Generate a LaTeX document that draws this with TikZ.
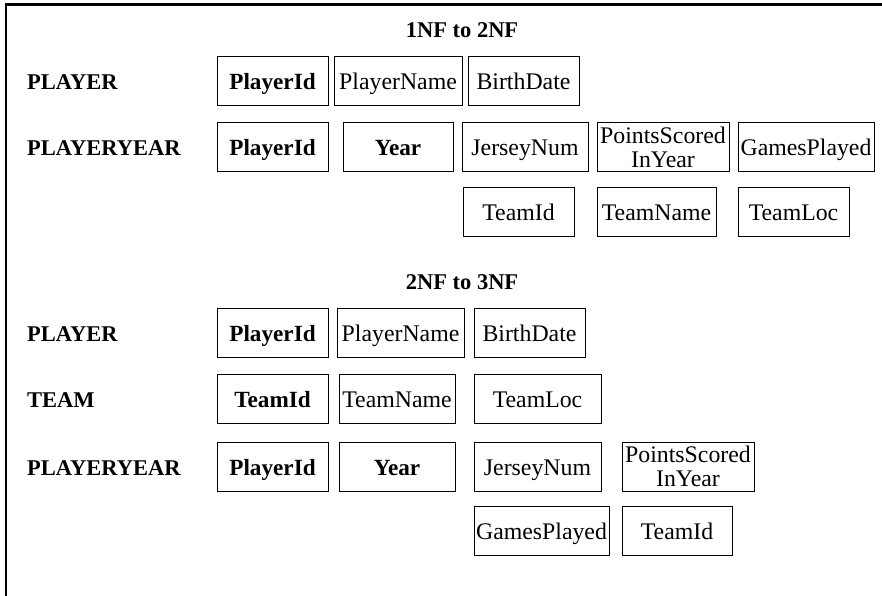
\documentclass[tikz,border=0pt]{standalone}
\usepackage{fontspec}
\setmainfont{Liberation Serif}
\begin{document}
\begin{tikzpicture}[x=1pt,y=-1pt,
  box/.style={draw,line width=0.9pt,minimum height=49pt,inner xsep=1pt,inner ysep=0pt,
    align=center,font=\fontsize{23.8}{24}\selectfont},
  attr/.style={box,text height=20pt,text depth=3pt},
  twoline/.style={box},
  keyattr/.style={attr,font=\fontsize{23.2}{24}\selectfont\bfseries},
  relname/.style={anchor=base west,inner sep=0pt,font=\fontsize{22.5}{24}\selectfont\bfseries},
  heading/.style={anchor=base,inner sep=0pt,font=\fontsize{22.5}{24}\selectfont\bfseries}]
\useasboundingbox (0,0) rectangle (882,595);
% outer frame, only its top and left edges fall inside the page
\begin{scope}
\clip (0,0) rectangle (882,595);
\draw[line width=2.6pt] (6,600) |- (890,4.3);
\end{scope}

% 1NF to 2NF
\node[heading] (h1) at (462,37) {1NF to 2NF};
\node[relname] (l1) at (27,89) {PLAYER};
\node[keyattr,minimum width=111pt] (a1) at (272.5,80.5) {PlayerId};
\node[attr,minimum width=128pt] (a2) at (398,80.5) {PlayerName};
\node[attr,minimum width=111pt] (a3) at (523.5,80.5) {BirthDate};

\node[relname] (l2) at (27,155.5) {PLAYERYEAR};
\node[keyattr,minimum width=111pt] (b1) at (272.5,147) {PlayerId};
\node[keyattr,minimum width=110pt] (b2) at (398,147) {Year};
\node[attr,minimum width=126pt] (b3) at (525,147) {JerseyNum};
\node[twoline,minimum width=132pt] (b4) at (663,147) {PointsScored\\InYear};
\node[attr,minimum width=136pt] (b5) at (806,147) {GamesPlayed};
\node[attr,minimum width=111pt] (b6) at (518.5,212) {TeamId};
\node[attr,minimum width=119pt] (b7) at (656.5,212) {TeamName};
\node[attr,minimum width=111pt] (b8) at (793.5,212) {TeamLoc};

% 2NF to 3NF
\node[heading] (h2) at (462,289) {2NF to 3NF};
\node[relname] (l3) at (27,341) {PLAYER};
\node[keyattr,minimum width=111pt] (c1) at (272.5,332.5) {PlayerId};
\node[attr,minimum width=127pt] (c2) at (400.5,332.5) {PlayerName};
\node[attr,minimum width=111pt] (c3) at (529.5,332.5) {BirthDate};

\node[relname] (l4) at (27,407) {TEAM};
\node[keyattr,minimum width=111pt] (d1) at (272.5,398.5) {TeamId};
\node[attr,minimum width=116pt] (d2) at (397,398.5) {TeamName};
\node[attr,minimum width=127pt] (d3) at (537.5,398.5) {TeamLoc};

\node[relname] (l5) at (27,475) {PLAYERYEAR};
\node[keyattr,minimum width=111pt] (e1) at (272.5,466.5) {PlayerId};
\node[keyattr,minimum width=116pt] (e2) at (397,466.5) {Year};
\node[attr,minimum width=127pt] (e3) at (537.5,466.5) {JerseyNum};
\node[twoline,minimum width=132pt] (e4) at (688,466.5) {PointsScored\\InYear};
\node[attr,minimum width=135pt] (e5) at (541.5,530.5) {GamesPlayed};
\node[attr,minimum width=110pt] (e6) at (677,530.5) {TeamId};
\end{tikzpicture}
\end{document}
